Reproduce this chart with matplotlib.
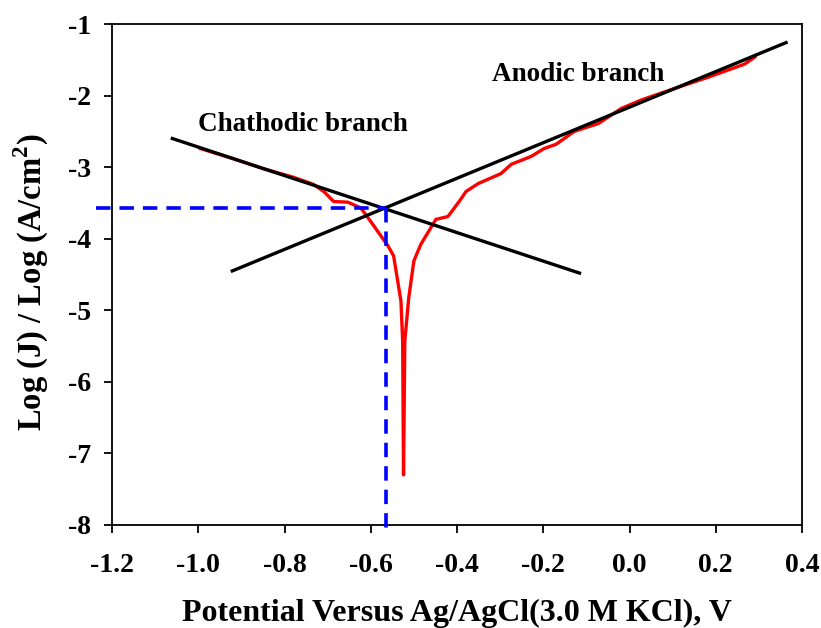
import matplotlib
matplotlib.use("Agg")
import matplotlib.pyplot as plt

plt.rcParams['font.family'] = ['Liberation Serif', 'DejaVu Serif']
plt.rcParams['font.weight'] = 'bold'
plt.rcParams['mathtext.fontset'] = 'custom'
plt.rcParams['mathtext.rm'] = 'Liberation Serif:bold'
plt.rcParams['mathtext.bf'] = 'Liberation Serif:bold'

# measured polarization curve (potential V, log J)
potential = [-0.995, -0.92, -0.85, -0.78, -0.733, -0.709, -0.686, -0.653, -0.623,
             -0.600, -0.560, -0.547, -0.530, -0.526, -0.524, -0.521, -0.512,
             -0.500, -0.484, -0.449, -0.421, -0.395, -0.379, -0.351, -0.298,
             -0.274, -0.228, -0.198, -0.170, -0.128, -0.072, -0.019, 0.028,
             0.105, 0.184, 0.267, 0.291]
log_j = [-2.74, -2.88, -3.02, -3.14, -3.24, -3.34, -3.48, -3.49, -3.57,
         -3.76, -4.10, -4.24, -4.87, -5.43, -7.30, -5.43, -4.83,
         -4.31, -4.08, -3.73, -3.69, -3.48, -3.34, -3.23, -3.09,
         -2.96, -2.85, -2.74, -2.68, -2.50, -2.39, -2.18, -2.06,
         -1.90, -1.74, -1.56, -1.46]

# Tafel fit lines (end points)
cath_x = [-1.060, -0.116]
cath_y = [-2.60, -4.48]
anod_x = [-0.921, 0.363]
anod_y = [-4.45, -1.26]

# corrosion point
e_corr = -0.565
log_j_corr = -3.57

fig = plt.figure(figsize=(8.21, 6.28), dpi=100)
ax = fig.add_axes([112 / 821, 1 - 525 / 628, 690 / 821, 501 / 628])

ax.plot(potential, log_j, color='red', lw=2.4, zorder=3)
ax.plot(cath_x, cath_y, color='black', lw=2.4, zorder=4)
ax.plot(anod_x, anod_y, color='black', lw=2.4, zorder=4)
ax.plot([-1.238, e_corr], [log_j_corr, log_j_corr], color='blue', lw=2.6,
        ls=(0, (4, 2.5)), clip_on=False, zorder=5)
ax.plot([e_corr, e_corr], [log_j_corr, -8.06], color='blue', lw=2.6,
        ls=(0, (4, 2.5)), clip_on=False, zorder=5)

ax.text(-0.318, -1.71, 'Anodic branch', fontsize=19.5, fontweight='bold', ha='left', va='center')
ax.text(-1.0, -2.41, 'Chathodic branch', fontsize=19.5, fontweight='bold', ha='left', va='center')

ax.set_xlim(-1.2, 0.4)
ax.set_ylim(-8, -1)
ax.set_xticks([-1.2, -1.0, -0.8, -0.6, -0.4, -0.2, 0.0, 0.2, 0.4])
ax.set_xticklabels(['-1.2', '-1.0', '-0.8', '-0.6', '-0.4', '-0.2', '0.0', '0.2', '0.4'])
ax.set_yticks([-8, -7, -6, -5, -4, -3, -2, -1])
ax.set_yticklabels(['-8', '-7', '-6', '-5', '-4', '-3', '-2', '-1'])
ax.tick_params(direction='out', length=6, width=1.3, labelsize=20)
ax.tick_params(axis='x', pad=14)
ax.tick_params(axis='y', pad=9)
for s in ax.spines.values():
    s.set_linewidth(1.3)

ax.set_xlabel('Potential Versus Ag/AgCl(3.0 M KCl), V', fontsize=23, fontweight='bold', labelpad=15)
ax.set_ylabel(r'Log (J) / Log (A/cm$^\mathbf{2}$)', fontsize=23.5, fontweight='bold')
ax.yaxis.set_label_coords(-0.088, 0.485)

fig.savefig('out.png', dpi=100)
